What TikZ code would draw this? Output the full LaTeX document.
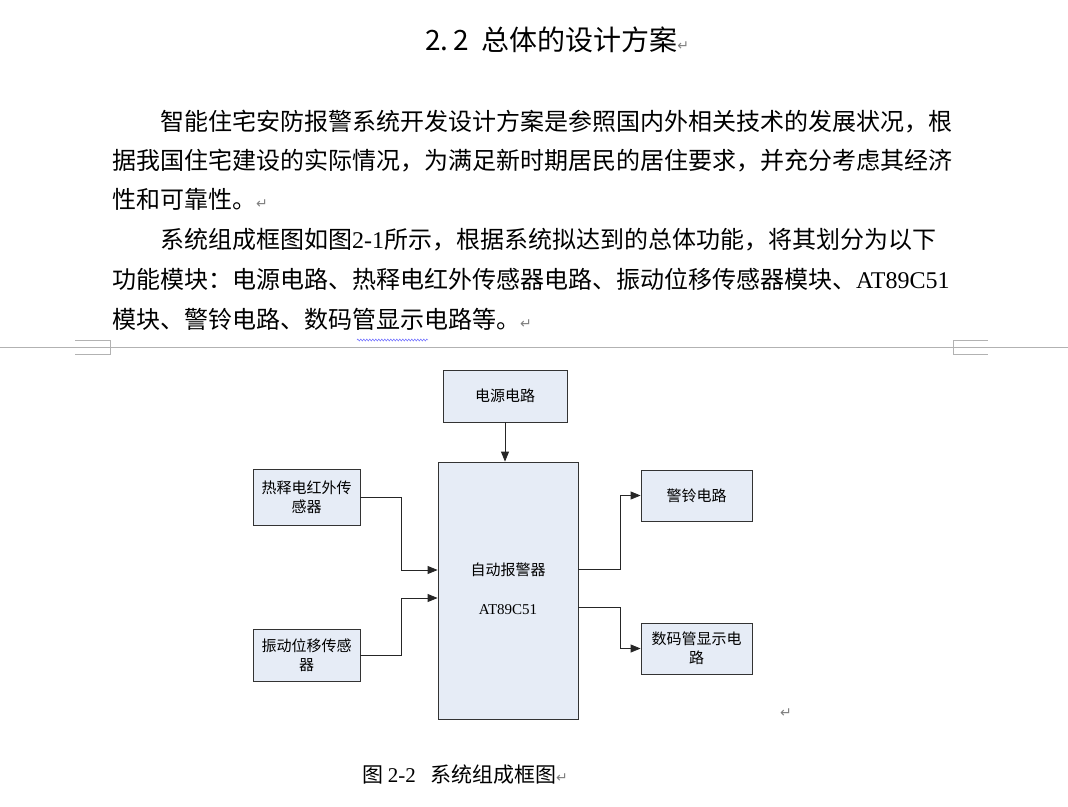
\documentclass[tikz,border=0pt]{standalone}
\usepackage{fontspec}
\setmainfont{Liberation Serif}
\newfontfamily\cjk{Noto Sans CJK SC}
\newfontfamily\dv{DejaVu Sans}
\usetikzlibrary{arrows.meta,decorations.pathmorphing}
\definecolor{boxfill}{HTML}{E6ECF6}
\newcommand{\ret}{{\dv\color{gray}\fontsize{14}{14}\selectfont ↵}}
\begin{document}
\begin{tikzpicture}[x=1pt,y=-1pt,
  blk/.style={draw=black!80,fill=boxfill,line width=0.8pt,inner sep=0pt,font=\cjk\fontsize{15}{19}\selectfont,align=center},
  con/.style={draw=black!85,line width=0.8pt,-{Triangle[length=10pt,width=8pt]}},
  body/.style={anchor=base west,inner sep=0pt,font=\cjk\fontsize{24}{24}\selectfont}]
\useasboundingbox (0,0) rectangle (1068,806);
% title
\node[anchor=base west,inner sep=0pt,font=\cjk\fontsize{28}{28}\selectfont] (title) at (425,50) {2.\,2\ \ 总体的设计方案\ret};
% paragraphs
\node[body] (l1) at (160,130) {智能住宅安防报警系统开发设计方案是参照国内外相关技术的发展状况，根};
\node[body] (l2) at (112,169) {据我国住宅建设的实际情况，为满足新时期居民的居住要求，并充分考虑其经济};
\node[body] (l3) at (112,208) {性和可靠性。\ret};
\node[body] (l4) at (160,248) {系统组成框图如图{\rmfamily 2-1}所示，根据系统拟达到的总体功能，将其划分为以下};
\node[body] (l5) at (112,288) {功能模块：电源电路、热释电红外传感器电路、振动位移传感器模块、{\rmfamily AT89C51}};
\node[body] (l6) at (112,328) {模块、警铃电路、数码管显示电路等。\ret};
\draw[blue!70,decorate,decoration={zigzag,segment length=3pt,amplitude=1pt}] (357,340) -- (428,340);
% page rule and marks
\draw[gray!60,line width=0.8pt] (0,347) -- (1068,347);
\draw[gray!60,line width=0.8pt] (75,340) -- (110,340) -- (110,354) -- (75,354);
\draw[gray!60,line width=0.8pt] (988,340) -- (953,340) -- (953,354) -- (988,354);
% diagram
\node[blk,minimum width=124pt,minimum height=52pt] (pw) at (505,396) {电源电路};
\node[blk,minimum width=140pt,minimum height=257pt] (mcu) at (508,590.5) {};
\node[inner sep=0pt,font=\cjk\fontsize{15}{15}\selectfont] (t1) at (508,570) {自动报警器};
\node[inner sep=0pt,font=\fontsize{15}{15}\selectfont] (t2) at (508,610) {AT89C51};
\node[blk,minimum width=107pt,minimum height=56pt] (ir) at (306.5,497) {热释电红外传\\感器};
\node[blk,minimum width=107pt,minimum height=52pt] (vb) at (306.5,655) {振动位移传感\\器};
\node[blk,minimum width=111pt,minimum height=51pt] (bell) at (696.5,495.5) {警铃电路};
\node[blk,minimum width=111pt,minimum height=51pt] (led) at (696.5,648.5) {数码管显示电\\路};
\draw[con] (pw.south) -- (mcu.north -| pw.south);
\draw[con] (ir.east) -- (401,497) |- (mcu.west |- 0,570);
\draw[con] (vb.east) -- (401,655) |- (mcu.west |- 0,598);
\draw[con] (mcu.east |- 0,569) -- (620,569) |- (bell.west);
\draw[con] (mcu.east |- 0,607) -- (620,607) |- (led.west);
\node[inner sep=0pt] (r1) at (786,713) {\ret};
% caption
\node[anchor=base west,inner sep=0pt,font=\cjk\fontsize{21}{21}\selectfont] (cap) at (362,782) {图 {\rmfamily 2-2}\ \ \ 系统组成框图\ret};
\end{tikzpicture}
\end{document}
